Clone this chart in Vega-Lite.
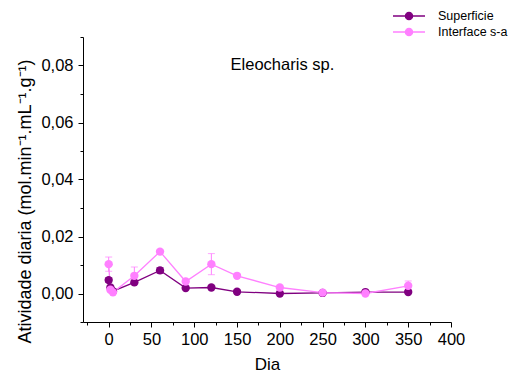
{
  "$schema": "https://vega.github.io/schema/vega-lite/v6.json",
  "width": 368,
  "height": 285,
  "autosize": {"type": "none"},
  "padding": {"left": 83, "top": 37, "right": 64, "bottom": 58},
  "background": "white",
  "config": {
    "view": {"stroke": null},
    "font": "Liberation Sans",
    "axis": {"grid": false, "domainColor": "black", "tickColor": "black", "labelColor": "black", "titleColor": "black", "labelFont": "Liberation Sans", "titleFont": "Liberation Sans", "titleFontWeight": "normal"}
  },
  "datasets": {
    "pts": [
      {"day": 0, "value": 0.0047, "err": 0.0008, "series": "Superficie"},
      {"day": 2, "value": 0.0021, "err": null, "series": "Superficie"},
      {"day": 5, "value": 0.0008, "err": null, "series": "Superficie"},
      {"day": 30, "value": 0.0039, "err": null, "series": "Superficie"},
      {"day": 60, "value": 0.0081, "err": 0.001, "series": "Superficie"},
      {"day": 90, "value": 0.0019, "err": null, "series": "Superficie"},
      {"day": 120, "value": 0.0021, "err": null, "series": "Superficie"},
      {"day": 150, "value": 0.0006, "err": null, "series": "Superficie"},
      {"day": 200, "value": 0.0, "err": null, "series": "Superficie"},
      {"day": 250, "value": 0.0002, "err": null, "series": "Superficie"},
      {"day": 300, "value": 0.0005, "err": null, "series": "Superficie"},
      {"day": 350, "value": 0.0005, "err": null, "series": "Superficie"},
      {"day": 0, "value": 0.0103, "err": 0.0025, "series": "Interface s-a"},
      {"day": 2, "value": 0.0013, "err": null, "series": "Interface s-a"},
      {"day": 5, "value": 0.0004, "err": null, "series": "Interface s-a"},
      {"day": 30, "value": 0.0062, "err": 0.0031, "series": "Interface s-a"},
      {"day": 60, "value": 0.0147, "err": 0.0005, "series": "Interface s-a"},
      {"day": 90, "value": 0.0042, "err": null, "series": "Interface s-a"},
      {"day": 120, "value": 0.0103, "err": 0.0037, "series": "Interface s-a"},
      {"day": 150, "value": 0.0062, "err": null, "series": "Interface s-a"},
      {"day": 200, "value": 0.0021, "err": null, "series": "Interface s-a"},
      {"day": 250, "value": 0.0003, "err": null, "series": "Interface s-a"},
      {"day": 300, "value": 0.0, "err": null, "series": "Interface s-a"},
      {"day": 350, "value": 0.0027, "err": 0.0017, "series": "Interface s-a"}
    ]
  },
  "data": {"name": "pts"},
  "layer": [
    {
      "mark": {"type": "line", "strokeWidth": 1.3},
      "encoding": {
        "x": {"field": "day", "type": "quantitative", "scale": {"domain": [-30, 400], "nice": false, "zero": false},
          "axis": {"orient": "bottom", "title": "Dia", "values": [0, 50, 100, 150, 200, 250, 300, 350, 400], "labelFlush": false, "tickSize": 5, "labelFontSize": 16.5, "titleFontSize": 17, "labelPadding": 4, "titlePadding": 9}},
        "y": {"field": "value", "type": "quantitative", "scale": {"domain": [-0.01, 0.09], "nice": false, "zero": false},
          "axis": {"orient": "left", "title": "Atividade diaria (mol.min⁻¹.mL⁻¹.g⁻¹)", "values": [0, 0.02, 0.04, 0.06, 0.08], "labelExpr": "replace(format(datum.value, '.2f'), '.', ',')", "labelFlush": false, "tickSize": 5, "labelFontSize": 16.5, "titleFontSize": 18, "labelPadding": 5, "titleX": -53, "titleY": 164, "titleAngle": -90, "titleAlign": "center", "titleBaseline": "alphabetic"}},
        "color": {"field": "series", "type": "nominal", "scale": {"domain": ["Superficie", "Interface s-a"], "range": ["#800080", "#FF80FF"]},
          "legend": {"title": null, "orient": "none", "legendX": 317, "legendY": -30, "labelFontSize": 12.5, "labelFont": "Liberation Sans", "labelColor": "black", "rowPadding": 0, "symbolType": "M-2,0L2,0M0.45,0A0.45,0.45,0,1,1,-0.45,0A0.45,0.45,0,1,1,0.45,0Z", "symbolSize": 256, "symbolStrokeWidth": 1.3, "labelOffset": 20,
            "encode": {"symbols": {"update": {"fill": {"scale": "color", "field": "value"}}}}}},
        "order": {"field": "day"}
      }
    },
    {
      "transform": [{"filter": "datum.err != null"}],
      "mark": {"type": "errorbar", "ticks": {"size": 7}, "thickness": 1},
      "encoding": {
        "x": {"field": "day", "type": "quantitative", "axis": null},
        "y": {"field": "value", "type": "quantitative", "axis": null},
        "yError": {"field": "err"},
        "color": {"field": "series", "type": "nominal"}
      }
    },
    {
      "mark": {"type": "point", "filled": true, "size": 70, "opacity": 1},
      "encoding": {
        "x": {"field": "day", "type": "quantitative", "axis": null},
        "y": {"field": "value", "type": "quantitative", "axis": null},
        "color": {"field": "series", "type": "nominal"}
      }
    },
    {
      "data": {"values": [{"label": "Eleocharis sp."}]},
      "mark": {"type": "text", "fontSize": 16.5, "font": "Liberation Sans", "color": "black"},
      "encoding": {
        "text": {"field": "label"},
        "x": {"datum": 203, "type": "quantitative", "axis": {"orient": "bottom", "title": null, "values": [-25, 25, 75, 125, 175, 225, 275, 325, 375], "labels": false, "domain": false, "tickSize": 3, "grid": false}},
        "y": {"datum": 0.0803, "type": "quantitative", "axis": {"orient": "left", "title": null, "values": [-0.01, 0.01, 0.03, 0.05, 0.07, 0.09], "labels": false, "domain": false, "tickSize": 3, "grid": false}}
      }
    }
  ],
  "resolve": {"axis": {"x": "independent", "y": "independent"}}
}
